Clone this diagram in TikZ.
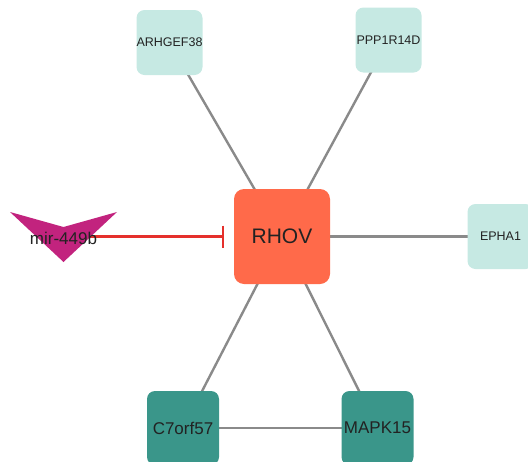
\documentclass[tikz,border=0pt]{standalone}
\usepackage{fontspec}
\setmainfont{Liberation Sans}
\usetikzlibrary{arrows.meta,backgrounds}
\definecolor{hubfill}{HTML}{FF6A4A}
\definecolor{leaffill}{HTML}{C6E9E3}
\definecolor{tealfill}{HTML}{3A968A}
\definecolor{mirfill}{HTML}{C2237E}
\definecolor{inhred}{HTML}{E5302C}
\definecolor{edgegray}{HTML}{8A8A8A}
\definecolor{labelink}{HTML}{222222}
\tikzset{
  gene/.style={rounded corners=8pt, inner sep=0pt, text=labelink, align=center},
  leaf/.style={gene, fill=leaffill, minimum width=66pt, minimum height=65pt, font=\fontsize{12.5}{14}\selectfont},
  tealbox/.style={gene, fill=tealfill, minimum width=72pt, minimum height=74pt, font=\fontsize{17}{20}\selectfont},
  hub/.style={gene, fill=hubfill, rounded corners=10pt, minimum width=96pt, minimum height=95pt, font=\fontsize{21}{24}\selectfont},
  link/.style={draw=edgegray, line width=2.4pt},
  inhibit/.style={draw=inhred, line width=2.2pt, -{Bar[width=22pt,line width=2.2pt]}, shorten >=10pt}
}
\begin{document}
\begin{tikzpicture}[x=1pt,y=-1pt]
  \useasboundingbox (0,0) rectangle (528,461);
  \clip (0,0) rectangle (528,461);

  % genes
  \node[hub]  (rhov) at (282,236.5) {RHOV};
  \node[leaf] (arhgef) at (169.5,42.5) {ARHGEF38};
  \node[leaf] (ppp) at (388.5,40) {PPP1R14D};
  \node[leaf] (epha) at (500.5,236.5) {EPHA1};
  \node[tealbox] (c7) at (183,428) {C7orf57};
  \node[tealbox] (mapk) at (377.5,428) {MAPK15};

  % microRNA chevron with its label
  \coordinate (mirc) at (63.5,236.5);
  \fill[mirfill] (10,212) -- (63.5,227) -- (117,212) -- (63.5,262) -- cycle;
  \node[text=labelink, font=\fontsize{17}{20}\selectfont, inner sep=0pt] (mir) at (63.5,238) {mir-449b};

  % connectors behind the nodes
  \begin{scope}[on background layer]
    \draw[link] (rhov.center) -- (arhgef.center);
    \draw[link] (rhov.center) -- (ppp.center);
    \draw[link] (rhov.center) -- (epha.center);
    \draw[link] (rhov.center) -- (c7.center);
    \draw[link] (rhov.center) -- (mapk.center);
    \draw[link] (c7.center) -- (mapk.center);
    \draw[inhibit] (mirc) -- (rhov.west);
  \end{scope}
\end{tikzpicture}
\end{document}
